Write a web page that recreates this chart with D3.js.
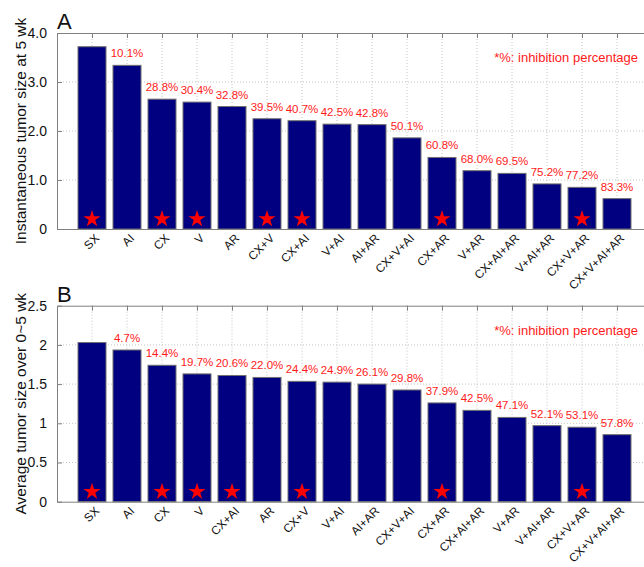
<!DOCTYPE html>
<html>
<head>
<meta charset="utf-8">
<script src="https://cdn.jsdelivr.net/npm/d3@7"></script>
<style>
	body { margin: 0; background: #fff; }
	text { font-family: "Liberation Sans", Arial, sans-serif; }
</style>
</head>
<body>
<div id="plot"></div>
<script>
// panel A data
var catsA = ["SX", "AI", "CX", "V", "AR", "CX+V", "CX+AI", "V+AI", "AI+AR", "CX+V+AI", "CX+AR", "V+AR", "CX+AI+AR", "V+AI+AR", "CX+V+AR", "CX+V+AI+AR"];
var valsA = [3.72, 3.34, 2.65, 2.59, 2.50, 2.25, 2.21, 2.14, 2.13, 1.86, 1.46, 1.19, 1.135, 0.92, 0.85, 0.62];
var pctA = ["", "10.1%", "28.8%", "30.4%", "32.8%", "39.5%", "40.7%", "42.5%", "42.8%", "50.1%", "60.8%", "68.0%", "69.5%", "75.2%", "77.2%", "83.3%"];
var starA = ["SX", "CX", "V", "CX+V", "CX+AI", "CX+AR", "CX+V+AR"];
var ticksA = [0, 1, 2, 3, 4];
var tickLabelsA = ["0", "1.0", "2.0", "3.0", "4.0"];

// panel B data
var catsB = ["SX", "AI", "CX", "V", "CX+AI", "AR", "CX+V", "V+AI", "AI+AR", "CX+V+AI", "CX+AR", "CX+AI+AR", "V+AR", "V+AI+AR", "CX+V+AR", "CX+V+AI+AR"];
var valsB = [2.03, 1.935, 1.74, 1.63, 1.61, 1.585, 1.535, 1.525, 1.50, 1.425, 1.26, 1.165, 1.075, 0.97, 0.95, 0.855];
var pctB = ["", "4.7%", "14.4%", "19.7%", "20.6%", "22.0%", "24.4%", "24.9%", "26.1%", "29.8%", "37.9%", "42.5%", "47.1%", "52.1%", "53.1%", "57.8%"];
var starB = ["SX", "CX", "V", "CX+AI", "CX+V", "CX+AR", "CX+V+AR"];
var ticksB = [0, 0.5, 1, 1.5, 2, 2.5];
var tickLabelsB = ["0", "0.5", "1", "1.5", "2", "2.5"];

var svg = d3.select("#plot")
	.append("svg")
	.attr("width", 644)
	.attr("height", 567);

drawPanel({
	cats: catsA, vals: valsA, pct: pctA, stars: starA,
	ticks: ticksA, tickLabels: tickLabelsA, yMax: 4,
	top: 33, bottom: 229, letter: "A",
	ylabel: "Instantaneous tumor size at 5 wk"
});

drawPanel({
	cats: catsB, vals: valsB, pct: pctB, stars: starB,
	ticks: ticksB, tickLabels: tickLabelsB, yMax: 2.5,
	top: 305.7, bottom: 501.7, letter: "B",
	ylabel: "Average tumor size over 0~5 wk"
});

function drawPanel(p) {
	var left = 57, right = 652; // right edge falls outside the picture
	var g = svg.append("g");

	var xScale = d3.scaleLinear()
		.domain([0, p.cats.length + 1])
		.range([left, right]);

	var yScale = d3.scaleLinear()
		.domain([0, p.yMax])
		.range([p.bottom, p.top]);

	var bw = (xScale(1) - xScale(0)) * 0.8;

	//dotted grid
	g.append("g")
		.selectAll("line")
		.data(p.ticks.slice(1, -1))
		.enter().append("line")
		.attr("x1", left).attr("x2", right)
		.attr("y1", function (d) { return yScale(d); })
		.attr("y2", function (d) { return yScale(d); })
		.attr("stroke", "#c4c4c4")
		.attr("stroke-dasharray", "1,2");

	g.append("g")
		.selectAll("line")
		.data(p.cats)
		.enter().append("line")
		.attr("x1", function (d, i) { return xScale(i + 1); })
		.attr("x2", function (d, i) { return xScale(i + 1); })
		.attr("y1", p.top).attr("y2", p.bottom)
		.attr("stroke", "#c4c4c4")
		.attr("stroke-dasharray", "1,2");

	//bars
	g.append("g")
		.selectAll("rect")
		.data(p.vals)
		.enter().append("rect")
		.attr("x", function (d, i) { return xScale(i + 1) - bw / 2; })
		.attr("y", function (d) { return yScale(d); })
		.attr("width", bw)
		.attr("height", function (d) { return yScale(0) - yScale(d); })
		.attr("fill", "#000080")
		.attr("stroke", "#707070")
		.attr("stroke-width", 1);

	//percent labels
	g.append("g")
		.selectAll("text")
		.data(p.pct)
		.enter().append("text")
		.attr("x", function (d, i) { return xScale(i + 1); })
		.attr("y", function (d, i) { return yScale(p.vals[i]) - 8; })
		.attr("text-anchor", "middle")
		.attr("font-size", "11.5px")
		.attr("fill", "#ff1a1a")
		.text(function (d) { return d; });

	//stars
	g.append("g")
		.selectAll("path")
		.data(p.cats.filter(function (d) { return p.stars.indexOf(d) >= 0; }))
		.enter().append("path")
		.attr("d", d3.symbol().type(d3.symbolStar).size(90))
		.attr("transform", function (d) {
			return "translate(" + xScale(p.cats.indexOf(d) + 1) + "," + (p.bottom - 10) + ")";
		})
		.attr("fill", "#ff0000");

	//axes box, ticks pointing inwards
	var yAxis = d3.axisLeft(yScale)
		.tickValues(p.ticks)
		.tickFormat(function (d, i) { return p.tickLabels[i]; })
		.tickSizeInner(-5)
		.tickSizeOuter(0)
		.tickPadding(10);

	var ya = g.append("g")
		.attr("transform", "translate(" + left + ",0)")
		.call(yAxis);
	ya.selectAll("line, path").attr("stroke", "#808080");
	ya.selectAll("text").attr("font-size", "14px").attr("fill", "#111")
		.attr("font-family", "'Liberation Sans', Arial, sans-serif");

	var xTop = d3.axisTop(xScale)
		.tickValues(d3.range(1, p.cats.length + 1))
		.tickFormat("")
		.tickSizeInner(-5)
		.tickSizeOuter(0);

	var xt = g.append("g")
		.attr("transform", "translate(0," + p.top + ")")
		.call(xTop);
	xt.selectAll("line, path").attr("stroke", "#808080");

	var xBottom = d3.axisBottom(xScale)
		.tickValues(d3.range(1, p.cats.length + 1))
		.tickFormat("")
		.tickSizeInner(0)
		.tickSizeOuter(0);

	var xb = g.append("g")
		.attr("transform", "translate(0," + p.bottom + ")")
		.call(xBottom);
	xb.selectAll("line, path").attr("stroke", "#808080");

	//rotated category labels
	g.append("g")
		.selectAll("text")
		.data(p.cats)
		.enter().append("text")
		.attr("transform", function (d, i) {
			return "translate(" + (xScale(i + 1) + 8) + "," + (p.bottom + 10) + ") rotate(-45)";
		})
		.attr("text-anchor", "end")
		.attr("font-size", "11.8px")
		.attr("fill", "#111")
		.text(function (d) { return d; });

	//y label
	g.append("text")
		.attr("transform", "translate(26," + ((p.top + p.bottom) / 2) + ") rotate(-90)")
		.attr("text-anchor", "middle")
		.attr("font-size", "15.5px")
		.attr("fill", "#111")
		.text(p.ylabel);

	//panel letter
	g.append("text")
		.attr("x", left)
		.attr("y", p.top - 4)
		.attr("font-size", "22px")
		.attr("fill", "#111")
		.text(p.letter);

	//note
	g.append("text")
		.attr("x", 638)
		.attr("y", p.top + 29)
		.attr("text-anchor", "end")
		.attr("font-size", "13px")
		.attr("fill", "#ff1a1a")
		.text("*%: inhibition percentage");
}
</script>
</body>
</html>
